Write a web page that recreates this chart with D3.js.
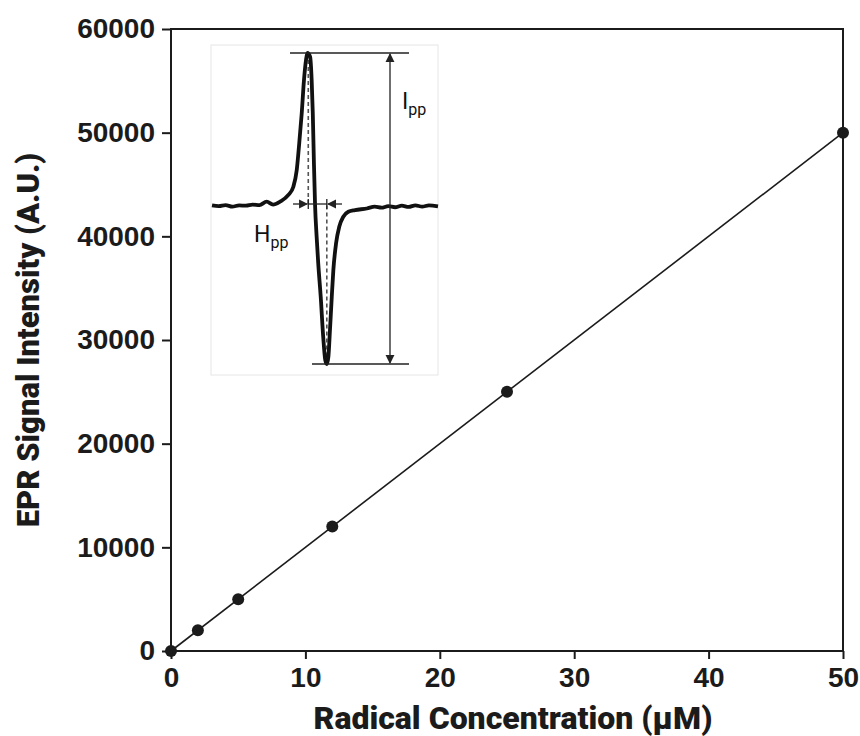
<!DOCTYPE html>
<html>
<head>
<meta charset="utf-8">
<script src="https://cdn.jsdelivr.net/npm/d3@7"></script>
<style>
  body { margin: 0; background: #fff; }
  svg { font-family: Roboto, "Noto Sans", sans-serif; }
</style>
</head>
<body>
<div id="corpo"></div>
<script>
// calibration points
var concentration = [0, 2, 5, 12, 25, 50];
var intensity = [0, 2000, 5000, 12000, 25000, 50000];
var xTicks = [0, 10, 20, 30, 40, 50];
var yTicks = [0, 10000, 20000, 30000, 40000, 50000, 60000];

// inset EPR trace (field 0-100, signal -1..1)
var traceField = [0, 3, 6, 9, 12, 15, 18, 21, 24.2, 27, 30.1, 33.8, 36.0, 37.5, 38.6, 39.7, 40.7, 41.6, 42.2, 43.4, 44.1, 44.6, 45.1, 45.6, 46.3, 47.0, 48.1, 49.2, 50.1, 50.8, 51.5, 52.2, 53.0, 53.7, 54.9, 56.3, 58.1, 60.3, 63.3, 68.5, 72, 75, 78, 81, 84, 87, 90, 93, 96, 100];
var traceSignal = [0.02, 0.015, 0.022, 0.012, 0.02, 0.018, 0.025, 0.022, 0.044, 0.025, 0.044, 0.087, 0.14, 0.248, 0.419, 0.612, 0.826, 0.955, 1.0, 0.976, 0.826, 0.612, 0.291, 0.023, -0.181, -0.352, -0.567, -0.824, -0.974, -1.0, -0.953, -0.781, -0.567, -0.395, -0.224, -0.117, -0.053, -0.021, -0.01, 0.0, 0.012, 0.005, 0.015, 0.008, 0.018, 0.01, 0.02, 0.012, 0.02, 0.014];

var margin = {top: 29, right: 17, bottom: 85, left: 171},
    width = 860 - margin.left - margin.right,
    height = 736 - margin.top - margin.bottom;

var x = d3.scaleLinear().domain([0, 50]).range([0, width]);
var y = d3.scaleLinear().domain([0, 60000]).range([height, 0]);

var ink = "#1b1b1b";

var svg = d3.select("#corpo").append("svg")
    .attr("width", 860)
    .attr("height", 736)
    .append("g")
    .attr("transform", "translate(" + margin.left + "," + margin.top + ")");

// axes
var xAxis = svg.append("g")
    .attr("transform", "translate(0," + height + ")")
    .call(d3.axisBottom(x).tickValues(xTicks).tickFormat(d3.format("d")).tickSize(8).tickPadding(8));
var yAxis = svg.append("g")
    .call(d3.axisLeft(y).tickValues(yTicks).tickFormat(d3.format("d")).tickSize(9).tickPadding(7));

[xAxis, yAxis].forEach(function (a) {
    a.select(".domain").remove();
    a.selectAll("line").attr("stroke", ink).attr("stroke-width", 2);
    a.selectAll("text")
        .attr("fill", ink)
        .style("font-size", "28px")
        .style("font-weight", "900");
});

// frame
svg.append("rect")
    .attr("x", 0).attr("y", 0)
    .attr("width", width).attr("height", height)
    .attr("fill", "none")
    .attr("stroke", ink)
    .attr("stroke-width", 2);

// fit line
var fit = d3.line()
    .x(function (d) { return x(d[0]); })
    .y(function (d) { return y(d[1]); });
svg.append("path")
    .datum([[concentration[0], intensity[0]], [concentration[concentration.length - 1], intensity[intensity.length - 1]]])
    .attr("fill", "none")
    .attr("stroke", ink)
    .attr("stroke-width", 1.6)
    .attr("d", fit);

// points
svg.selectAll("circle.pt")
    .data(concentration)
    .enter().append("circle")
    .attr("class", "pt")
    .attr("cx", function (d) { return x(d); })
    .attr("cy", function (d, i) { return y(intensity[i]); })
    .attr("r", 6)
    .attr("fill", ink);

// axis titles
svg.append("text")
    .attr("x", width / 2 + 6)
    .attr("y", 729 - margin.top)
    .attr("text-anchor", "middle")
    .attr("fill", ink)
    .style("font-size", "32px")
    .style("font-weight", "900")
    .text("Radical Concentration (μM)");

svg.append("text")
    .attr("transform", "translate(" + (39 - margin.left) + "," + (340 - margin.top) + ") rotate(-90)")
    .attr("text-anchor", "middle")
    .attr("fill", ink)
    .style("font-size", "31px")
    .style("font-weight", "900")
    .text("EPR Signal Intensity (A.U.)");

///INSET
var inset = d3.select("svg").append("g");
var ix = d3.scaleLinear().domain([0, 100]).range([212, 438]);
var iy = d3.scaleLinear().domain([-1, 1]).range([364, 53]);

inset.append("rect")
    .attr("x", 211).attr("y", 45)
    .attr("width", 227).attr("height", 330)
    .attr("fill", "#fff")
    .attr("stroke", "#e6e6e6")
    .attr("stroke-width", 1);

var peakTop = iy(1), peakBot = iy(-1), base = iy(0.02);
var xTop = ix(42.6), xBot = ix(50.8);

// dashed guides
inset.append("line")
    .attr("x1", xTop).attr("x2", xTop).attr("y1", peakTop).attr("y2", base)
    .attr("stroke", "#555").attr("stroke-width", 1.6).attr("stroke-dasharray", "4,3");
inset.append("line")
    .attr("x1", xBot).attr("x2", xBot).attr("y1", base).attr("y2", peakBot)
    .attr("stroke", "#555").attr("stroke-width", 1.6).attr("stroke-dasharray", "4,3");

// trace
var trace = d3.line()
    .x(function (d) { return ix(d); })
    .y(function (d, i) { return iy(traceSignal[i]); })
    .curve(d3.curveMonotoneX);
inset.append("path")
    .datum(traceField)
    .attr("fill", "none")
    .attr("stroke", "#111")
    .attr("stroke-width", 3.8)
    .attr("stroke-linejoin", "round")
    .attr("d", trace);

// markers
var defs = d3.select("svg").append("defs");
defs.append("marker")
    .attr("id", "arr")
    .attr("viewBox", "0 0 10 10")
    .attr("refX", 9).attr("refY", 5)
    .attr("markerWidth", 7).attr("markerHeight", 7)
    .attr("orient", "auto-start-reverse")
    .append("path")
    .attr("d", "M0,0 L10,5 L0,10 z")
    .attr("fill", "#222");

// Ipp
inset.append("line")
    .attr("x1", 290).attr("x2", 409).attr("y1", peakTop).attr("y2", peakTop)
    .attr("stroke", "#222").attr("stroke-width", 1.5);
inset.append("line")
    .attr("x1", 312).attr("x2", 409).attr("y1", peakBot).attr("y2", peakBot)
    .attr("stroke", "#222").attr("stroke-width", 1.5);
inset.append("line")
    .attr("x1", 390).attr("x2", 390).attr("y1", peakTop + 1).attr("y2", peakBot - 1)
    .attr("stroke", "#222").attr("stroke-width", 1.3)
    .attr("marker-start", "url(#arr)")
    .attr("marker-end", "url(#arr)");

var ipp = inset.append("text")
    .attr("x", 402).attr("y", 109)
    .attr("fill", "#111")
    .style("font-size", "23px");
ipp.append("tspan").text("I");
ipp.append("tspan").attr("dy", 6).style("font-size", "16px").text("pp");

// Hpp
var hy = 204;
inset.append("line")
    .attr("x1", 293).attr("x2", xTop - 1).attr("y1", hy).attr("y2", hy)
    .attr("stroke", "#222").attr("stroke-width", 1.3)
    .attr("marker-end", "url(#arr)");
inset.append("line")
    .attr("x1", 342).attr("x2", xBot + 1).attr("y1", hy).attr("y2", hy)
    .attr("stroke", "#222").attr("stroke-width", 1.3)
    .attr("marker-end", "url(#arr)");
inset.append("line")
    .attr("x1", xTop).attr("x2", xBot).attr("y1", hy).attr("y2", hy)
    .attr("stroke", "#222").attr("stroke-width", 1.3);
[xTop, xBot].forEach(function (xx) {
    inset.append("line")
        .attr("x1", xx).attr("x2", xx).attr("y1", hy - 5).attr("y2", hy + 5)
        .attr("stroke", "#222").attr("stroke-width", 1.3);
});

var hpp = inset.append("text")
    .attr("x", 254).attr("y", 242)
    .attr("fill", "#111")
    .style("font-size", "23px");
hpp.append("tspan").text("H");
hpp.append("tspan").attr("dy", 6).style("font-size", "16px").text("pp");
</script>
</body>
</html>
